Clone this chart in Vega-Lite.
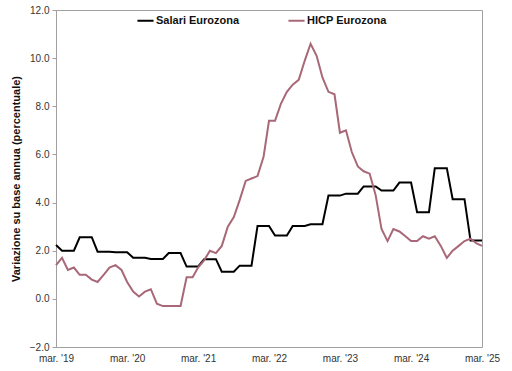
{
  "$schema": "https://vega.github.io/schema/vega-lite/v6.json",
  "width": 426,
  "height": 337,
  "autosize": "none",
  "padding": {"left": 56, "top": 10, "right": 30, "bottom": 24},
  "background": "white",
  "config": {
    "view": {"stroke": "#a0a0a0", "strokeWidth": 1},
    "font": "Liberation Sans"
  },
  "datasets": {
    "hicp": [
      {"date": "2019/03/01", "v": 1.4}, {"date": "2019/04/01", "v": 1.7}, {"date": "2019/05/01", "v": 1.2}, {"date": "2019/06/01", "v": 1.3},
      {"date": "2019/07/01", "v": 1.0}, {"date": "2019/08/01", "v": 1.0}, {"date": "2019/09/01", "v": 0.8}, {"date": "2019/10/01", "v": 0.7},
      {"date": "2019/11/01", "v": 1.0}, {"date": "2019/12/01", "v": 1.3}, {"date": "2020/01/01", "v": 1.4}, {"date": "2020/02/01", "v": 1.2},
      {"date": "2020/03/01", "v": 0.7}, {"date": "2020/04/01", "v": 0.3}, {"date": "2020/05/01", "v": 0.1}, {"date": "2020/06/01", "v": 0.3},
      {"date": "2020/07/01", "v": 0.4}, {"date": "2020/08/01", "v": -0.2}, {"date": "2020/09/01", "v": -0.3}, {"date": "2020/10/01", "v": -0.3},
      {"date": "2020/11/01", "v": -0.3}, {"date": "2020/12/01", "v": -0.3}, {"date": "2021/01/01", "v": 0.9}, {"date": "2021/02/01", "v": 0.9},
      {"date": "2021/03/01", "v": 1.3}, {"date": "2021/04/01", "v": 1.6}, {"date": "2021/05/01", "v": 2.0}, {"date": "2021/06/01", "v": 1.9},
      {"date": "2021/07/01", "v": 2.2}, {"date": "2021/08/01", "v": 3.0}, {"date": "2021/09/01", "v": 3.4}, {"date": "2021/10/01", "v": 4.1},
      {"date": "2021/11/01", "v": 4.9}, {"date": "2021/12/01", "v": 5.0}, {"date": "2022/01/01", "v": 5.1}, {"date": "2022/02/01", "v": 5.9},
      {"date": "2022/03/01", "v": 7.4}, {"date": "2022/04/01", "v": 7.4}, {"date": "2022/05/01", "v": 8.1}, {"date": "2022/06/01", "v": 8.6},
      {"date": "2022/07/01", "v": 8.9}, {"date": "2022/08/01", "v": 9.1}, {"date": "2022/09/01", "v": 9.9}, {"date": "2022/10/01", "v": 10.6},
      {"date": "2022/11/01", "v": 10.1}, {"date": "2022/12/01", "v": 9.2}, {"date": "2023/01/01", "v": 8.6}, {"date": "2023/02/01", "v": 8.5},
      {"date": "2023/03/01", "v": 6.9}, {"date": "2023/04/01", "v": 7.0}, {"date": "2023/05/01", "v": 6.1}, {"date": "2023/06/01", "v": 5.5},
      {"date": "2023/07/01", "v": 5.3}, {"date": "2023/08/01", "v": 5.2}, {"date": "2023/09/01", "v": 4.3}, {"date": "2023/10/01", "v": 2.9},
      {"date": "2023/11/01", "v": 2.4}, {"date": "2023/12/01", "v": 2.9}, {"date": "2024/01/01", "v": 2.8}, {"date": "2024/02/01", "v": 2.6},
      {"date": "2024/03/01", "v": 2.4}, {"date": "2024/04/01", "v": 2.4}, {"date": "2024/05/01", "v": 2.6}, {"date": "2024/06/01", "v": 2.5},
      {"date": "2024/07/01", "v": 2.6}, {"date": "2024/08/01", "v": 2.2}, {"date": "2024/09/01", "v": 1.7}, {"date": "2024/10/01", "v": 2.0},
      {"date": "2024/11/01", "v": 2.2}, {"date": "2024/12/01", "v": 2.4}, {"date": "2025/01/01", "v": 2.5}, {"date": "2025/02/01", "v": 2.3},
      {"date": "2025/03/01", "v": 2.2}
    ],
    "salari": [
      {"date": "2019/03/01", "v": 2.24}, {"date": "2019/04/01", "v": 2.0}, {"date": "2019/05/01", "v": 2.0}, {"date": "2019/06/01", "v": 2.0},
      {"date": "2019/07/01", "v": 2.56}, {"date": "2019/08/01", "v": 2.56}, {"date": "2019/09/01", "v": 2.56}, {"date": "2019/10/01", "v": 1.96},
      {"date": "2019/11/01", "v": 1.96}, {"date": "2019/12/01", "v": 1.96}, {"date": "2020/01/01", "v": 1.94}, {"date": "2020/02/01", "v": 1.94},
      {"date": "2020/03/01", "v": 1.94}, {"date": "2020/04/01", "v": 1.71}, {"date": "2020/05/01", "v": 1.71}, {"date": "2020/06/01", "v": 1.71},
      {"date": "2020/07/01", "v": 1.66}, {"date": "2020/08/01", "v": 1.66}, {"date": "2020/09/01", "v": 1.66}, {"date": "2020/10/01", "v": 1.9},
      {"date": "2020/11/01", "v": 1.9}, {"date": "2020/12/01", "v": 1.9}, {"date": "2021/01/01", "v": 1.34}, {"date": "2021/02/01", "v": 1.34},
      {"date": "2021/03/01", "v": 1.34}, {"date": "2021/04/01", "v": 1.65}, {"date": "2021/05/01", "v": 1.65}, {"date": "2021/06/01", "v": 1.65},
      {"date": "2021/07/01", "v": 1.13}, {"date": "2021/08/01", "v": 1.13}, {"date": "2021/09/01", "v": 1.13}, {"date": "2021/10/01", "v": 1.38},
      {"date": "2021/11/01", "v": 1.38}, {"date": "2021/12/01", "v": 1.38}, {"date": "2022/01/01", "v": 3.03}, {"date": "2022/02/01", "v": 3.03},
      {"date": "2022/03/01", "v": 3.03}, {"date": "2022/04/01", "v": 2.63}, {"date": "2022/05/01", "v": 2.63}, {"date": "2022/06/01", "v": 2.63},
      {"date": "2022/07/01", "v": 3.03}, {"date": "2022/08/01", "v": 3.03}, {"date": "2022/09/01", "v": 3.03}, {"date": "2022/10/01", "v": 3.1},
      {"date": "2022/11/01", "v": 3.1}, {"date": "2022/12/01", "v": 3.1}, {"date": "2023/01/01", "v": 4.29}, {"date": "2023/02/01", "v": 4.29},
      {"date": "2023/03/01", "v": 4.29}, {"date": "2023/04/01", "v": 4.37}, {"date": "2023/05/01", "v": 4.37}, {"date": "2023/06/01", "v": 4.37},
      {"date": "2023/07/01", "v": 4.67}, {"date": "2023/08/01", "v": 4.67}, {"date": "2023/09/01", "v": 4.67}, {"date": "2023/10/01", "v": 4.5},
      {"date": "2023/11/01", "v": 4.5}, {"date": "2023/12/01", "v": 4.5}, {"date": "2024/01/01", "v": 4.83}, {"date": "2024/02/01", "v": 4.83},
      {"date": "2024/03/01", "v": 4.83}, {"date": "2024/04/01", "v": 3.6}, {"date": "2024/05/01", "v": 3.6}, {"date": "2024/06/01", "v": 3.6},
      {"date": "2024/07/01", "v": 5.43}, {"date": "2024/08/01", "v": 5.43}, {"date": "2024/09/01", "v": 5.43}, {"date": "2024/10/01", "v": 4.14},
      {"date": "2024/11/01", "v": 4.14}, {"date": "2024/12/01", "v": 4.14}, {"date": "2025/01/01", "v": 2.42}, {"date": "2025/02/01", "v": 2.42},
      {"date": "2025/03/01", "v": 2.42}
    ]
  },
  "layer": [
    {
      "mark": {"type": "rule", "color": "#a0a0a0", "strokeWidth": 1},
      "encoding": {"y": {"datum": 0, "type": "quantitative", "scale": {"domain": [-2, 12]}}}
    },
    {
      "data": {"name": "salari"},
      "transform": [{"calculate": "'Salari Eurozona'", "as": "serie"}],
      "mark": {"type": "line", "strokeWidth": 2, "strokeJoin": "miter"},
      "encoding": {
        "x": {"field": "date", "type": "temporal"},
        "y": {"field": "v", "type": "quantitative"},
        "color": {"field": "serie", "type": "nominal"}
      }
    },
    {
      "data": {"name": "hicp"},
      "transform": [{"calculate": "'HICP Eurozona'", "as": "serie"}],
      "mark": {"type": "line", "strokeWidth": 2},
      "encoding": {
        "x": {"field": "date", "type": "temporal"},
        "y": {"field": "v", "type": "quantitative"},
        "color": {"field": "serie", "type": "nominal"}
      }
    }
  ],
  "encoding": {
    "x": {
      "type": "temporal",
      "scale": {"domain": [{"year": 2019, "month": 3, "date": 1}, {"year": 2025, "month": 3, "date": 1}], "nice": false},
      "axis": {
        "title": null,
        "grid": false,
        "domain": false,
        "ticks": false,
        "values": [
          {"year": 2019, "month": 3, "date": 1}, {"year": 2020, "month": 3, "date": 1}, {"year": 2021, "month": 3, "date": 1},
          {"year": 2022, "month": 3, "date": 1}, {"year": 2023, "month": 3, "date": 1}, {"year": 2024, "month": 3, "date": 1},
          {"year": 2025, "month": 3, "date": 1}
        ],
        "labelExpr": "'mar. \\'' + timeFormat(datum.value, '%y')",
        "labelFontSize": 10,
        "labelColor": "#333333",
        "labelPadding": 6,
        "labelFlush": false,
        "labelOverlap": false
      }
    },
    "y": {
      "type": "quantitative",
      "scale": {"domain": [-2, 12], "nice": false, "zero": false},
      "axis": {
        "title": "Variazione su base annua (percentuale)",
        "titleFontSize": 11,
        "titleFontWeight": "bold",
        "titleColor": "#111111",
        "titlePadding": 8,
        "grid": false,
        "values": [-2, 0, 2, 4, 6, 8, 10, 12],
        "format": ".1f",
        "labelFontSize": 10,
        "labelColor": "#333333",
        "domainColor": "#a0a0a0",
        "tickColor": "#a0a0a0",
        "tickSize": 4,
        "labelPadding": 3
      }
    },
    "color": {
      "type": "nominal",
      "scale": {"domain": ["Salari Eurozona", "HICP Eurozona"], "range": ["#000000", "#a86878"]},
      "legend": {
        "title": null,
        "orient": "none",
        "direction": "horizontal",
        "legendX": 80,
        "legendY": 1,
        "symbolType": "stroke",
        "symbolSize": 260,
        "symbolStrokeWidth": 2,
        "labelFontSize": 11,
        "labelFontWeight": "bold",
        "labelColor": "#111111",
        "labelOffset": 1,
        "columnPadding": 44
      }
    }
  }
}
